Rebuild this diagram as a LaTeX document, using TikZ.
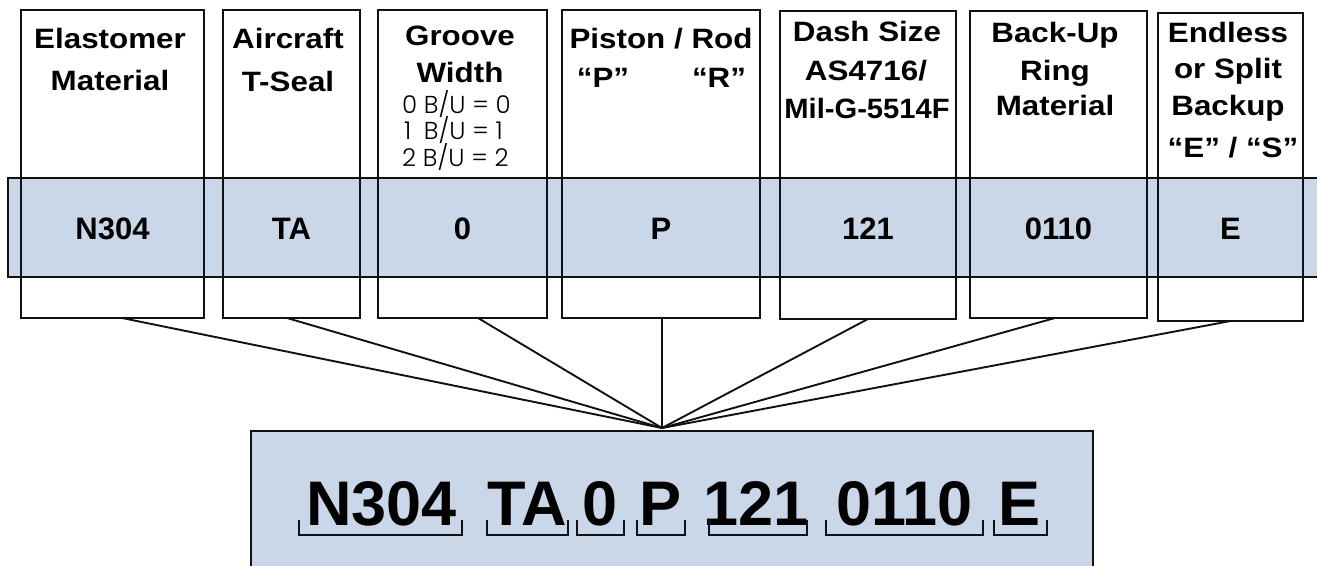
\documentclass[tikz,border=0pt]{standalone}
\usepackage{fontspec}
\setmainfont{Liberation Sans}
\newfontfamily\headfont{Liberation Sans}[FakeStretch=1.12]
\newfontfamily\thinfont{Poppins Light}
\definecolor{bandblue}{HTML}{C9D7E9}
\definecolor{ink}{HTML}{111111}
% a figure set in the width of a zero, so the rows line up
\newcommand{\digitslot}[1]{\makebox[0pt][l]{\hspace{0.08em}#1}\hphantom{0}}

\begin{document}
\begin{tikzpicture}[x=1pt,y=-1pt,
  colbox/.style={draw=ink, line width=2.4pt, anchor=north west, inner sep=0pt, outer sep=0pt},
  bandbox/.style={draw=ink, fill=bandblue, line width=2.1pt, anchor=north west, inner sep=0pt, outer sep=0pt},
  link/.style={draw=ink, line width=1.9pt},
  headtxt/.style={anchor=base, inner sep=0pt, font=\headfont\bfseries\fontsize{28}{34}\selectfont},
  notetxt/.style={anchor=base west, inner sep=0pt, font=\thinfont\fontsize{24.5}{28}\selectfont},
  valtxt/.style={anchor=base, inner sep=0pt, font=\bfseries\fontsize{31}{36}\selectfont},
  codetxt/.style={anchor=base, inner sep=0pt, font=\bfseries\fontsize{63}{70}\selectfont},
  brk/.style={draw=ink, line width=1.9pt}]

\useasboundingbox (0,0) rectangle (1317,565);

% value band running across all columns
\node[bandbox, minimum width=1330pt, minimum height=99pt] (band) at (8,178) {};

% column frames
\node[colbox, minimum width=183pt, minimum height=308pt] (c1) at (21,10) {};
\node[colbox, minimum width=137pt, minimum height=308pt] (c2) at (223,10) {};
\node[colbox, minimum width=169pt, minimum height=308pt] (c3) at (378,10) {};
\node[colbox, minimum width=198pt, minimum height=308pt] (c4) at (562,10) {};
\node[colbox, minimum width=176pt, minimum height=308pt] (c5) at (780,11) {};
\node[colbox, minimum width=177pt, minimum height=307pt] (c6) at (970,11) {};
\node[colbox, minimum width=145pt, minimum height=308pt] (c7) at (1158,13) {};

% column headings
\node[headtxt] at (110,48) {Elastomer};
\node[headtxt] at (110,90) {Material};
\node[headtxt] at (288,48) {Aircraft};
\node[headtxt] at (288,91) {T-Seal};
\node[headtxt] at (460,45) {Groove};
\node[headtxt] at (460,82) {Width};
\node[notetxt] at (402,113) {0 B/U = 0};
\node[notetxt] at (402,139) {\digitslot{1} B/U = 1};
\node[notetxt] at (402,166) {2 B/U = 2};
\node[headtxt] at (661,48) {Piston / Rod};
\node[headtxt] at (603,87) {“P”};
\node[headtxt] at (719,87) {“R”};
\node[headtxt] at (867,41) {Dash Size};
\node[headtxt] at (866,80) {AS4716/};
\node[headtxt] at (867,118) {\scalebox{0.93}[1]{Mil-G-5514F}};
\node[headtxt] at (1055,42) {Back-Up};
\node[headtxt] at (1055,80) {Ring};
\node[headtxt] at (1055,115) {Material};
\node[headtxt] at (1228,42) {Endless};
\node[headtxt] at (1228,78) {or Split};
\node[headtxt] at (1228,115) {Backup};
\node[headtxt] at (1233,157) {“E” / “S”};

% values in the band
\node[valtxt] at (c1.center |- 0,239) {N304};
\node[valtxt] at (c2.center |- 0,239) {TA};
\node[valtxt] at (c3.center |- 0,239) {0};
\node[valtxt] at (c4.center |- 0,239) {P};
\node[valtxt] at (c5.center |- 0,239) {121};
\node[valtxt] at (c6.center |- 0,239) {0110};
\node[valtxt] at (c7.center |- 0,239) {E};

% connectors to the assembled part number
\coordinate (hub) at (662,428);
\draw[link] ([xshift=9.5pt]c1.south) -- (hub);
\draw[link] ([xshift=-4.5pt]c2.south) -- (hub);
\draw[link] ([xshift=15.5pt]c3.south) -- (hub);
\draw[link] ([xshift=1pt]c4.south) -- (hub);
\draw[link] (c5.south) -- (hub);
\draw[link] ([xshift=-3.5pt]c6.south) -- (hub);
\draw[link] (c7.south) -- (hub);

% assembled part number
\node[bandbox, line width=2.4pt, minimum width=842pt, minimum height=160pt] (code) at (251,431) {};
\node[codetxt] at (381.5,525) {N304};
\node[codetxt] at (527.5,525) {TA};
\node[codetxt] at (600.5,525) {0};
\node[codetxt] at (661,525) {P};
\node[codetxt] at (756,525) {121};
\node[codetxt] at (904.5,525) {0110};
\node[codetxt] at (1019.5,525) {E};

% brackets under each field
\foreach \a/\b in {299/462, 487/568, 577/624, 637/685, 709/807, 826/983, 994/1047}
  \draw[brk] (\a,520) -- (\a,535) -- (\b,535) -- (\b,520);
\end{tikzpicture}
\end{document}
